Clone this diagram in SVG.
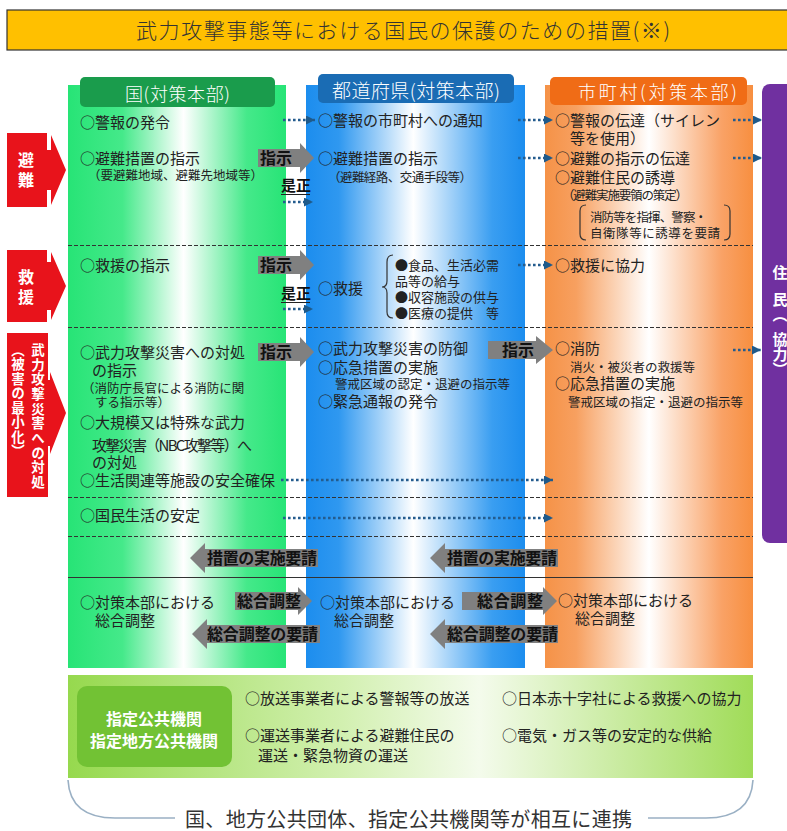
<svg xmlns="http://www.w3.org/2000/svg" width="787" height="831" viewBox="0 0 787 831">
<defs>
<linearGradient id="gG" x1="0" y1="0" x2="1" y2="0">
<stop offset="0" stop-color="#27E476"/><stop offset="0.25" stop-color="#45E98A"/><stop offset="0.53" stop-color="#FFFFFF"/><stop offset="0.82" stop-color="#45E98A"/><stop offset="1" stop-color="#27E476"/>
</linearGradient>
<linearGradient id="gB" x1="0" y1="0" x2="1" y2="0">
<stop offset="0" stop-color="#1C8DEE"/><stop offset="0.15" stop-color="#2F98F0"/><stop offset="0.49" stop-color="#FFFFFF"/><stop offset="0.85" stop-color="#3A9EF1"/><stop offset="1" stop-color="#1C8DEE"/>
</linearGradient>
<linearGradient id="gO" x1="0" y1="0" x2="1" y2="0">
<stop offset="0" stop-color="#F59247"/><stop offset="0.15" stop-color="#F7A060"/><stop offset="0.5" stop-color="#FFFFFF"/><stop offset="0.85" stop-color="#F9A266"/><stop offset="1" stop-color="#F78F40"/>
</linearGradient>
<linearGradient id="gL" x1="0" y1="0" x2="1" y2="0">
<stop offset="0" stop-color="#96D94E"/><stop offset="0.4" stop-color="#D2F0B0"/><stop offset="0.6" stop-color="#F4FBEC"/><stop offset="1" stop-color="#A0DC58"/>
</linearGradient>
<marker id="ah" markerUnits="userSpaceOnUse" markerWidth="9" markerHeight="9" refX="9" refY="4.5" orient="auto"><path d="M0,0 L9,4.5 L0,9 Z" fill="#1F5A8A"/></marker>
</defs>
<style>
.t{font-family:'Noto Sans CJK JP','Noto Sans CJK SC',sans-serif;font-size:15px;fill:#222}
.s{font-size:12.5px}
.h{font-size:18px;fill:#fff;font-weight:300}
.w{fill:#fff;font-weight:bold}
.v{writing-mode:vertical-rl}
.g{fill:#808080}
.gt{font-size:16px;font-weight:bold;fill:#111}
.dot{stroke:#245C8E;stroke-width:2.6;stroke-dasharray:2.6 2.4;fill:none;marker-end:url(#ah)}
.sep{stroke:#333;stroke-width:1;stroke-dasharray:4 2;fill:none}
.red{fill:#E8131B}
.br{stroke:#333;stroke-width:1.2;fill:none}
</style>
<rect width="787" height="831" fill="#fff"/>

<g id="title">
<rect x="7" y="10" width="790" height="40" fill="#FFC000" stroke="#333" stroke-width="1.2"/>
<text class="t" x="136" y="38" style="font-size:21px;fill:#333;font-weight:300" textLength="534">武力攻撃事態等における国民の保護のための措置(※)</text>
</g>

<g id="col-kuni">
<rect x="68" y="85" width="218" height="583" fill="url(#gG)"/>
<rect x="80" y="77" width="195" height="30" rx="5" fill="#1A9C4C"/>
<text class="t h" x="125" y="101" textLength="105">国(対策本部)</text>
<text class="t" x="80" y="128">○警報の発令</text>
<text class="t" x="80" y="164">○避難措置の指示</text>
<text class="t s" x="88" y="180">（要避難地域、避難先地域等）</text>
<text class="t" x="80" y="271">○救援の指示</text>
<text class="t" x="80" y="358">○武力攻撃災害への対処</text>
<text class="t" x="92" y="376">の指示</text>
<text class="t s" x="82" y="393">（消防庁長官による消防に関</text>
<text class="t s" x="95" y="407">する指示等）</text>
<text class="t" x="80" y="428">○大規模又は特殊な武力</text>
<text class="t" x="92" y="451" textLength="160">攻撃災害（NBC攻撃等）へ</text>
<text class="t" x="92" y="468">の対処</text>
<text class="t" x="80" y="486">○生活関連等施設の安全確保</text>
<text class="t" x="80" y="521">○国民生活の安定</text>
<text class="t" x="80" y="608">○対策本部における</text>
<text class="t" x="95" y="626">総合調整</text>
</g>

<g id="col-pref">
<rect x="306" y="85" width="219" height="583" fill="url(#gB)"/>
<rect x="318" y="74" width="196" height="29" rx="5" fill="#1A6CB4"/>
<text class="t h" x="332" y="98" style="font-size:19px" textLength="168">都道府県(対策本部)</text>
<text class="t" x="318" y="126">○警報の市町村への通知</text>
<text class="t" x="318" y="164">○避難措置の指示</text>
<text class="t s" x="328" y="182" textLength="144">（避難経路、交通手段等）</text>
<text class="t" x="318" y="294">○救援</text>
<path class="br" d="M393,255 Q387,255 387,262 V281 Q387,287 382,287 Q387,287 387,293 V312 Q387,318 393,318"/>
<text class="t s" x="395" y="270" style="font-size:13px">●食品、生活必需</text>
<text class="t s" x="395" y="286" style="font-size:13px">品等の給与</text>
<text class="t s" x="395" y="302" style="font-size:13px">●収容施設の供与</text>
<text class="t s" x="395" y="318" style="font-size:13px">●医療の提供　等</text>
<text class="t" x="318" y="354">○武力攻撃災害の防御</text>
<text class="t" x="318" y="373">○応急措置の実施</text>
<text class="t s" x="335" y="389">警戒区域の認定・退避の指示等</text>
<text class="t" x="318" y="407">○緊急通報の発令</text>
<text class="t" x="320" y="608">○対策本部における</text>
<text class="t" x="334" y="626">総合調整</text>
</g>

<g id="col-city">
<rect x="545" y="85" width="208" height="583" fill="url(#gO)"/>
<rect x="550" y="77" width="197" height="28" rx="5" fill="#F06C16"/>
<text class="t h" x="578" y="99" textLength="159">市町村(対策本部)</text>
<text class="t" x="555" y="126">○警報の伝達（サイレン</text>
<text class="t" x="570" y="144">等を使用）</text>
<text class="t" x="555" y="164">○避難の指示の伝達</text>
<text class="t" x="555" y="183">○避難住民の誘導</text>
<text class="t s" x="562" y="200" textLength="126">（避難実施要領の策定）</text>
<path class="br" d="M586,205 Q580,205 580,211 V234 Q580,240 586,240"/>
<path class="br" d="M724,205 Q730,205 730,211 V234 Q730,240 724,240"/>
<text class="t s" x="590" y="222" textLength="117">消防等を指揮、警察・</text>
<text class="t s" x="590" y="238" textLength="130">自衛隊等に誘導を要請</text>
<text class="t" x="555" y="271">○救援に協力</text>
<text class="t" x="555" y="354">○消防</text>
<text class="t s" x="570" y="372">消火・被災者の救援等</text>
<text class="t" x="555" y="389">○応急措置の実施</text>
<text class="t s" x="568" y="407">警戒区域の指定・退避の指示等</text>
<text class="t" x="558" y="606">○対策本部における</text>
<text class="t" x="575" y="624">総合調整</text>
</g>

<g id="residents">
<rect x="762" y="84" width="40" height="459" rx="8" fill="#7030A0"/>
<text class="t w v" x="780" y="265">住</text>
<text class="t w v" x="780" y="292">民（</text>
<text class="t w v" x="780" y="332">協力）</text>
</g>

<g id="left-evac">
<path class="red" d="M7,133 H47 V150 H51 V135 L66,170 L51,205 V190 H47 V207 H7 Z"/>
<text class="t w v" x="26" y="152" style="font-size:16px;letter-spacing:4px">避難</text>
</g>
<g id="left-relief">
<path class="red" d="M7,250 H47 V262 H51 V252 L66,286 L51,320 V310 H47 V322 H7 Z"/>
<text class="t w v" x="26" y="269" style="font-size:16px;letter-spacing:4px">救援</text>
</g>
<g id="left-damage">
<path class="red" d="M7,333 H48 V380 H50 V372 L66,413 L50,454 V446 H48 V497 H7 Z"/>
<text class="t w v" x="38" y="343" style="font-size:13.5px;letter-spacing:1.2px">武力攻撃災害への対処</text>
<text class="t w v" x="18" y="343" style="font-size:13.5px;letter-spacing:1px">（被害の最小化）</text>
</g>

<g id="separators">
<line class="sep" x1="68" y1="245.5" x2="753" y2="245.5"/>
<line class="sep" x1="68" y1="327.5" x2="753" y2="327.5"/>
<line class="sep" x1="68" y1="497.5" x2="753" y2="497.5"/>
<line class="sep" x1="68" y1="536.5" x2="753" y2="536.5"/>
<line x1="68" y1="577.5" x2="753" y2="577.5" stroke="#333" stroke-width="1.2"/>
</g>

<g id="connectors">
<line class="dot" x1="283" y1="120" x2="315" y2="120"/>
<line class="dot" x1="283" y1="202" x2="313" y2="202"/>
<line class="dot" x1="518" y1="120" x2="553" y2="120"/>
<line class="dot" x1="518" y1="158" x2="553" y2="158"/>
<line class="dot" x1="733" y1="120" x2="762" y2="120"/>
<line class="dot" x1="733" y1="158" x2="762" y2="158"/>
<line class="dot" x1="283" y1="309" x2="313" y2="309"/>
<line class="dot" x1="518" y1="265" x2="553" y2="265"/>
<line class="dot" x1="733" y1="350" x2="761" y2="350"/>
<line class="dot" x1="281" y1="480" x2="553" y2="480"/>
<line class="dot" x1="283" y1="518" x2="553" y2="518"/>

<path class="g" d="M258,149 H300 V143 L314,158 L300,173 V167 H258 Z"/>
<text class="t gt" x="260" y="164">指示</text>
<text class="t gt" x="281" y="191" style="font-size:15px">是正</text>
<line x1="281" y1="194.5" x2="310" y2="194.5" stroke="#222" stroke-width="1"/>

<path class="g" d="M258,256 H300 V250 L314,265 L300,280 V274 H258 Z"/>
<text class="t gt" x="260" y="271">指示</text>
<text class="t gt" x="281" y="299" style="font-size:15px">是正</text>
<line x1="281" y1="302.5" x2="310" y2="302.5" stroke="#222" stroke-width="1"/>

<path class="g" d="M258,343 H300 V337 L314,352 L300,367 V361 H258 Z"/>
<text class="t gt" x="260" y="358">指示</text>

<path class="g" d="M488,341 H536 V336 L553,350 L536,364 V359 H488 Z"/>
<text class="t gt" x="502" y="356">指示</text>

<path class="g" d="M190,558 L205,543 V549 H318 V567 H205 V573 Z"/>
<text class="t gt" x="207" y="564" textLength="110">措置の実施要請</text>
<path class="g" d="M430,558 L445,543 V549 H558 V567 H445 V573 Z"/>
<text class="t gt" x="447" y="564" textLength="110">措置の実施要請</text>

<path class="g" d="M235,592 H298 V587 L312,601 L298,615 V610 H235 Z"/>
<text class="t gt" x="237" y="607" textLength="64">総合調整</text>
<path class="g" d="M462,592 H543 V587 L557,601 L543,615 V610 H462 Z"/>
<text class="t gt" x="477" y="607" textLength="66">総合調整</text>

<path class="g" d="M192,634 L207,619 V625 H320 V643 H207 V649 Z"/>
<text class="t gt" x="207" y="640" textLength="111">総合調整の要請</text>
<path class="g" d="M430,634 L445,619 V625 H558 V643 H445 V649 Z"/>
<text class="t gt" x="447" y="640" textLength="111">総合調整の要請</text>
</g>

<g id="designated">
<rect x="68" y="675" width="685" height="103" fill="url(#gL)"/>
<rect x="77" y="686" width="155" height="81" rx="10" fill="#72C234"/>
<text class="t w" x="154" y="725" text-anchor="middle" style="font-size:16px">指定公共機関</text>
<text class="t w" x="154" y="747" text-anchor="middle" style="font-size:16px">指定地方公共機関</text>
<text class="t" x="245" y="704">○放送事業者による警報等の放送</text>
<text class="t" x="502" y="704">○日本赤十字社による救援への協力</text>
<text class="t" x="245" y="741">○運送事業者による避難住民の</text>
<text class="t" x="258" y="761">運送・緊急物資の運送</text>
<text class="t" x="502" y="741">○電気・ガス等の安定的な供給</text>
</g>

<g id="footer">
<path d="M68,780 Q70,818 115,818 H175" stroke="#9AB0C4" stroke-width="1.6" fill="none"/>
<path d="M648,818 H706 Q751,818 753,780" stroke="#9AB0C4" stroke-width="1.6" fill="none"/>
<text class="t" x="185" y="827" style="font-size:20px;fill:#333" textLength="447">国、地方公共団体、指定公共機関等が相互に連携</text>
</g>
</svg>
